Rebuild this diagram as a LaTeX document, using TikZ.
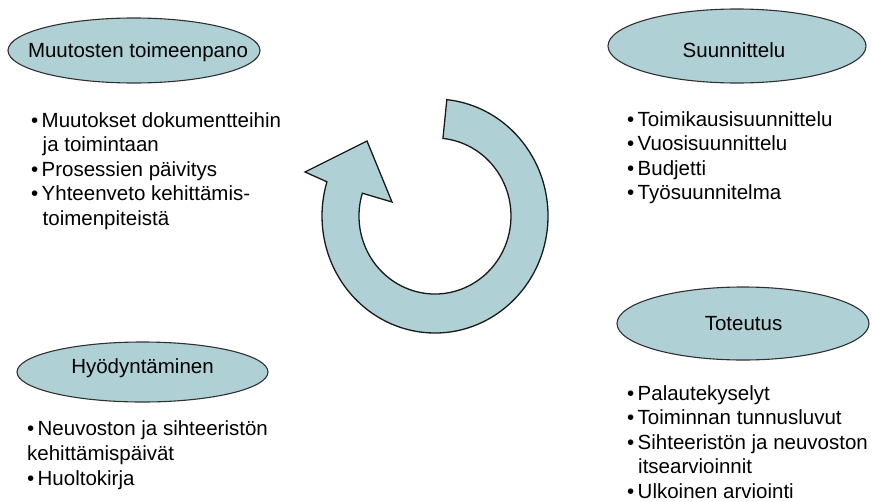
\documentclass[tikz,border=0pt]{standalone}
\usepackage{fontspec}
\setmainfont{Liberation Sans}
\usetikzlibrary{shapes.geometric,calc}
\definecolor{shapefill}{HTML}{AFD1D6}
\definecolor{shapeline}{HTML}{303030}
\newcommand{\bul}{\makebox[10.5pt][l]{•}}
\tikzset{
  oval/.style={ellipse, draw=shapeline, line width=1.1pt, fill=shapefill, inner sep=0pt},
  ovaltext/.style={anchor=base, inner sep=0pt, font=\fontsize{20.5}{24.5}\selectfont},
  itemtext/.style={anchor=base west, inner sep=0pt, font=\fontsize{20.5}{24.5}\selectfont},
  ringarrow/.style={draw=black!90, line width=1.3pt, fill=shapefill, line join=miter}
}
\begin{document}
\begin{tikzpicture}[x=1pt, y=-1pt]
\path[use as bounding box] (0,0) rectangle (872,501);

% ellipses
\node[oval, minimum width=252pt, minimum height=65pt] (e1) at (134,50.5) {};
\node[ovaltext] (t1) at (138,57) {Muutosten toimeenpano};
\node[oval, minimum width=258pt, minimum height=74pt] (e2) at (737,46) {};
\node[ovaltext] (t2) at (734,57) {Suunnittelu};
\node[oval, minimum width=251pt, minimum height=60pt] (e3) at (142.5,372) {};
\node[ovaltext] (t3) at (142.5,373) {Hyödyntäminen};
\node[oval, minimum width=252pt, minimum height=73pt] (e4) at (743,323.5) {};
\node[ovaltext] (t4) at (743.5,330) {Toteutus};

% list 1
\node[itemtext] (a1) at (31,127) {\bul Muutokset dokumentteihin};
\node[itemtext] (a2) at (42.5,151.5) {ja toimintaan};
\node[itemtext] (a3) at (31,176) {\bul Prosessien päivitys};
\node[itemtext] (a4) at (31,200.5) {\bul Yhteenveto kehittämis-};
\node[itemtext] (a5) at (42.5,225) {toimenpiteistä};

% list 2
\node[itemtext] (b1) at (627,126) {\bul Toimikausisuunnittelu};
\node[itemtext] (b2) at (627,150.5) {\bul Vuosisuunnittelu};
\node[itemtext] (b3) at (627,175) {\bul Budjetti};
\node[itemtext] (b4) at (627,199.5) {\bul Työsuunnitelma};

% list 3
\node[itemtext] (c1) at (27,435) {\bul Neuvoston ja sihteeristön};
\node[itemtext] (c2) at (27,460) {kehittämispäivät};
\node[itemtext] (c3) at (27,485) {\bul Huoltokirja};

% list 4
\node[itemtext] (d1) at (627,400) {\bul Palautekyselyt};
\node[itemtext] (d2) at (627,424.5) {\bul Toiminnan tunnusluvut};
\node[itemtext] (d3) at (627,449) {\bul Sihteeristön ja neuvoston};
\node[itemtext] (d4) at (638,473.5) {itsearvioinnit};
\node[itemtext] (d5) at (627,498) {\bul Ulkoinen arviointi};

% circular arrow
\coordinate (C) at (435,216);
\draw[ringarrow]
  ($(C)+(-84:113 and 117)$)
  arc[start angle=-84, end angle=197, x radius=113, y radius=117]
  -- ($(C)+(-130,-44)$)
  -- ($(C)+(-68,-75)$)
  -- ($(C)+(-43,-14)$)
  -- ($(C)+(197:76 and 78)$)
  arc[start angle=197, end angle=-84, x radius=76, y radius=78]
  -- cycle;
\end{tikzpicture}
\end{document}
